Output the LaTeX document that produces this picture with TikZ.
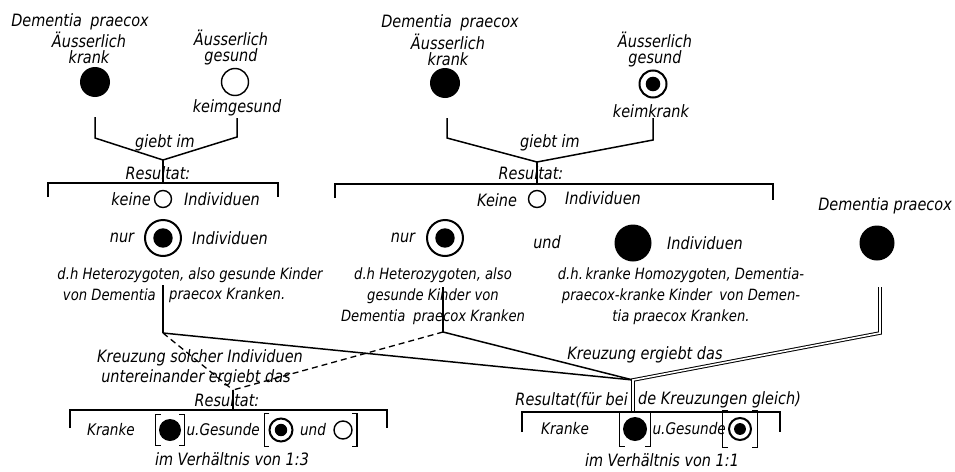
\documentclass[tikz,border=0pt]{standalone}
\usepackage{fontspec}
\setmainfont{DejaVu Sans}[FakeStretch=0.85]
\usetikzlibrary{positioning}
\usetikzlibrary{fit}

% square brackets round a (fitted) node
\newcommand\drawbrackets[1]{%
  \draw[bar] ([xshift=5pt]#1.north west) -- (#1.north west)
    -- (#1.south west) -- ([xshift=5pt]#1.south west);
  \draw[bar] ([xshift=-5pt]#1.north east) -- (#1.north east)
    -- (#1.south east) -- ([xshift=-5pt]#1.south east);
}

\tikzset {
  % hand lettering
  txt/.style = {
    font = \fontsize{17}{16}\selectfont\itshape,
    inner sep = 0,
    align = center
  },
  % explanations below the results
  note/.style = {
    txt,
    font = \fontsize{15.5}{21}\selectfont\itshape
  },
  % rows in the lower brackets
  row/.style = {
    txt,
    font = \fontsize{16}{16}\selectfont\itshape
  },
  % outwardly ill
  sick/.style = {
    circle,
    fill = black,
    inner sep = 0,
    minimum size = #1
  },
  sick/.default = 30pt,
  % sound, in germ and outwardly
  healthy/.style = {
    circle,
    draw = black,
    line width = 1.4pt,
    inner sep = 0,
    minimum size = #1
  },
  healthy/.default = 18pt,
  % outwardly sound, ill in germ
  carrier/.style = {
    circle,
    draw = black,
    line width = 2pt,
    inner sep = 0,
    minimum size = #1,
    path picture = {
      \fill[black] (path picture bounding box.center) circle (0.27*#1);
    }
  },
  carrier/.default = 36pt
}
\tikzset {
  link/.style = {
    draw = black,
    line width = 1.5pt
  },
  heavy link/.style = {
    link,
    line width = 2.6pt
  },
  dash link/.style = {
    link,
    line width = 1.3pt,
    dash pattern = on 6pt off 4pt
  },
  double link/.style = {
    draw = black,
    double,
    double distance = 1.6pt,
    line width = 1pt
  },
  bar/.style = {
    link,
    line width = 1.3pt
  }
}

\begin{document}
\begin{tikzpicture}[x=1pt, y=-1pt]
  \useasboundingbox (0,0) rectangle (955,471);

  % first cross
  \node[txt] (dp1) at (80,22) {Dementia\enspace praecox};
  \node[txt] (ak1) at (89,48) {Äusserlich\\krank};
  \node[sick] (s1) at (95,82) {};
  \node[txt] (ag1) at (231,48) {Äusserlich\\gesund};
  \node[healthy=27pt] (h1) at (235,82) {};
  \node[txt] (kg1) at (237,108) {keimgesund};

  \coordinate (f1l) at (95,117);
  \coordinate (f1r) at (237,118);
  \coordinate (j1) at (163,160);
  \coordinate (b1l) at (48,183);
  \coordinate (b1m) at (163,183);
  \coordinate (b1r) at (278,183);
  \draw[link] (f1l) -- ++(0,21) -- (j1);
  \draw[link] (f1r) -- ++(0,19) -- (j1);
  \draw[link] (j1) -- (b1m);
  \draw[bar] ([yshift=-14pt]b1l) -- (b1l) -- (b1r) -- ([yshift=-14pt]b1r);
  \node[txt] (gi1) at (165,143) {giebt im};
  \node[txt] (re1) at (158,173) {Resultat:};

  \node[txt] (ke1) at (131,199) {keine};
  \node[healthy=17pt] (h2) at (163,199) {};
  \node[txt] (in1) at (222,199) {Individuen};
  \node[txt] (nu1) at (122,238) {nur};
  \node[carrier] (c1) at (163,238) {};
  \node[txt] (in2) at (230,238) {Individuen};

  \node[note] (he1) at (190,275) {d.h Heterozygoten, also gesunde Kinder};
  \node[note, anchor=east] (he1a) at (156,295) {von Dementia};
  \node[note, anchor=west] (he1b) at (169,295) {praecox Kranken.};

  % second cross
  \node[txt] (dp2) at (450,23) {Dementia\enspace praecox};
  \node[txt] (ak2) at (448,50) {Äusserlich\\krank};
  \node[sick] (s3) at (445,83) {};
  \node[txt] (ag2) at (655,50) {Äusserlich\\gesund};
  \node[carrier=27pt] (c2) at (653,84) {};
  \node[txt] (kk2) at (651,111) {keimkrank};

  \coordinate (f2l) at (447,118);
  \coordinate (f2r) at (653,118);
  \coordinate (j2) at (537,162);
  \coordinate (b2l) at (335,184);
  \coordinate (b2m) at (537,184);
  \coordinate (b2r) at (773,184);
  \draw[link] (f2l) -- ++(0,20) -- (j2);
  \draw[link] (f2r) -- ++(0,22) -- (j2);
  \draw[link] (j2) -- (b2m);
  \draw[bar] ([yshift=-14pt]b2l) -- (b2l) -- (b2r) -- ([yshift=-16pt]b2r);
  \node[txt] (gi2) at (550,143) {giebt im};
  \node[txt] (re2) at (531,173) {Resultat:};

  \node[txt] (ke2) at (497,200) {Keine};
  \node[healthy=17pt] (h3) at (537,199) {};
  \node[txt] (in3) at (603,198) {Individuen};
  \node[txt] (nu2) at (403,238) {nur};
  \node[carrier] (c3) at (445,238) {};
  \node[txt] (un2) at (547,242) {und};
  \node[sick=37pt] (s4) at (633,243) {};
  \node[txt] (in4) at (705,243) {Individuen};

  \node[note] (he2) at (433,296) {d.h Heterozygoten, also\\gesunde Kinder von\\Dementia\enspace praecox Kranken};
  \node[note] (ho2) at (681,296) {d.h.\,kranke Homozygoten, Dementia-\\praecox-kranke Kinder\enspace von Demen-\\tia praecox Kranken.};

  % ill parent for the back cross
  \node[txt, anchor=east] (dp3) at (952,206) {Dementia praecox};
  \node[sick=35pt] (s5) at (877,243) {};

  % crossings
  \coordinate (d1t) at (163,285);
  \coordinate (d1) at (163,333);
  \coordinate (d2t) at (443,287);
  \coordinate (d2) at (443,332);
  \coordinate (d3t) at (880,287);
  \coordinate (d3) at (880,333);
  \coordinate (jn) at (633,380);
  \coordinate (jd) at (233,390);
  \coordinate (b3l) at (70,410);
  \coordinate (b3m) at (233,410);
  \coordinate (b3r) at (387,410);
  \coordinate (b4l) at (522,412);
  \coordinate (b4m) at (633,412);
  \coordinate (b4r) at (780,412);

  \draw[heavy link] (d1t) -- (d1);
  \draw[link] (d2t) -- (d2);
  \draw[link] (d1) -- (jn);
  \draw[link] (d2) -- (jn);
  \draw[double link] (d3t) -- (d3) -- (jn) -- (b4m);
  \draw[dash link] (d1) -- (jd);
  \draw[dash link] (d2) -- (jd);
  \draw[link] (jd) -- (b3m);
  \draw[bar] ([yshift=-18pt]b3l) -- (b3l) -- (b3r) -- ([yshift=-18pt]b3r);
  \draw[bar] ([yshift=-20pt]b4l) -- (b4l) -- (b4r) -- ([yshift=-20pt]b4r);

  % result of the first crossing
  \node[txt] (kr1) at (200,358) {Kreuzung solcher Individuen};
  \node[txt] (ue1) at (196,378) {untereinander ergiebt das};
  \node[txt] (re3) at (227,400) {Resultat:};
  \node[row] (kn1) at (111,430) {Kranke};
  \node[sick=22pt] (s6) at (170,430) {};
  \node[fit=(s6), inner xsep=3pt, inner ysep=4pt] (g1) {};
  \node[row, right=2pt of g1] (ug1) {u.Gesunde};
  \node[carrier=23pt] (c4) at (281,430) {};
  \node[row] (un3) at (313,430) {und};
  \node[healthy] (h4) at (343,430) {};
  \node[fit=(c4)(un3)(h4), inner xsep=4pt, inner ysep=4pt] (g2) {};
  \drawbrackets{g1}
  \drawbrackets{g2}
  \node[txt] (vh1) at (232,459) {im Verhältnis von 1:3};

  % result of the second crossing
  \node[txt] (kr2) at (645,355) {Kreuzung ergiebt das};
  \node[txt, anchor=east] (re4a) at (628,400) {Resultat(für bei};
  \node[txt, anchor=west] (re4b) at (638,400) {de Kreuzungen gleich)};
  \node[row] (kn2) at (565,429) {Kranke};
  \node[sick=24pt] (s7) at (635,429) {};
  \node[fit=(s7), inner xsep=3pt, inner ysep=5pt] (g3) {};
  \node[row, right=2pt of g3] (ug2) {u.Gesunde};
  \node[carrier=22pt] (c5) at (740,429) {};
  \node[fit=(c5), inner xsep=5pt, inner ysep=6pt] (g4) {};
  \drawbrackets{g3}
  \drawbrackets{g4}
  \node[txt] (vh2) at (662,460) {im Verhältnis von 1:1};
\end{tikzpicture}
\end{document}
